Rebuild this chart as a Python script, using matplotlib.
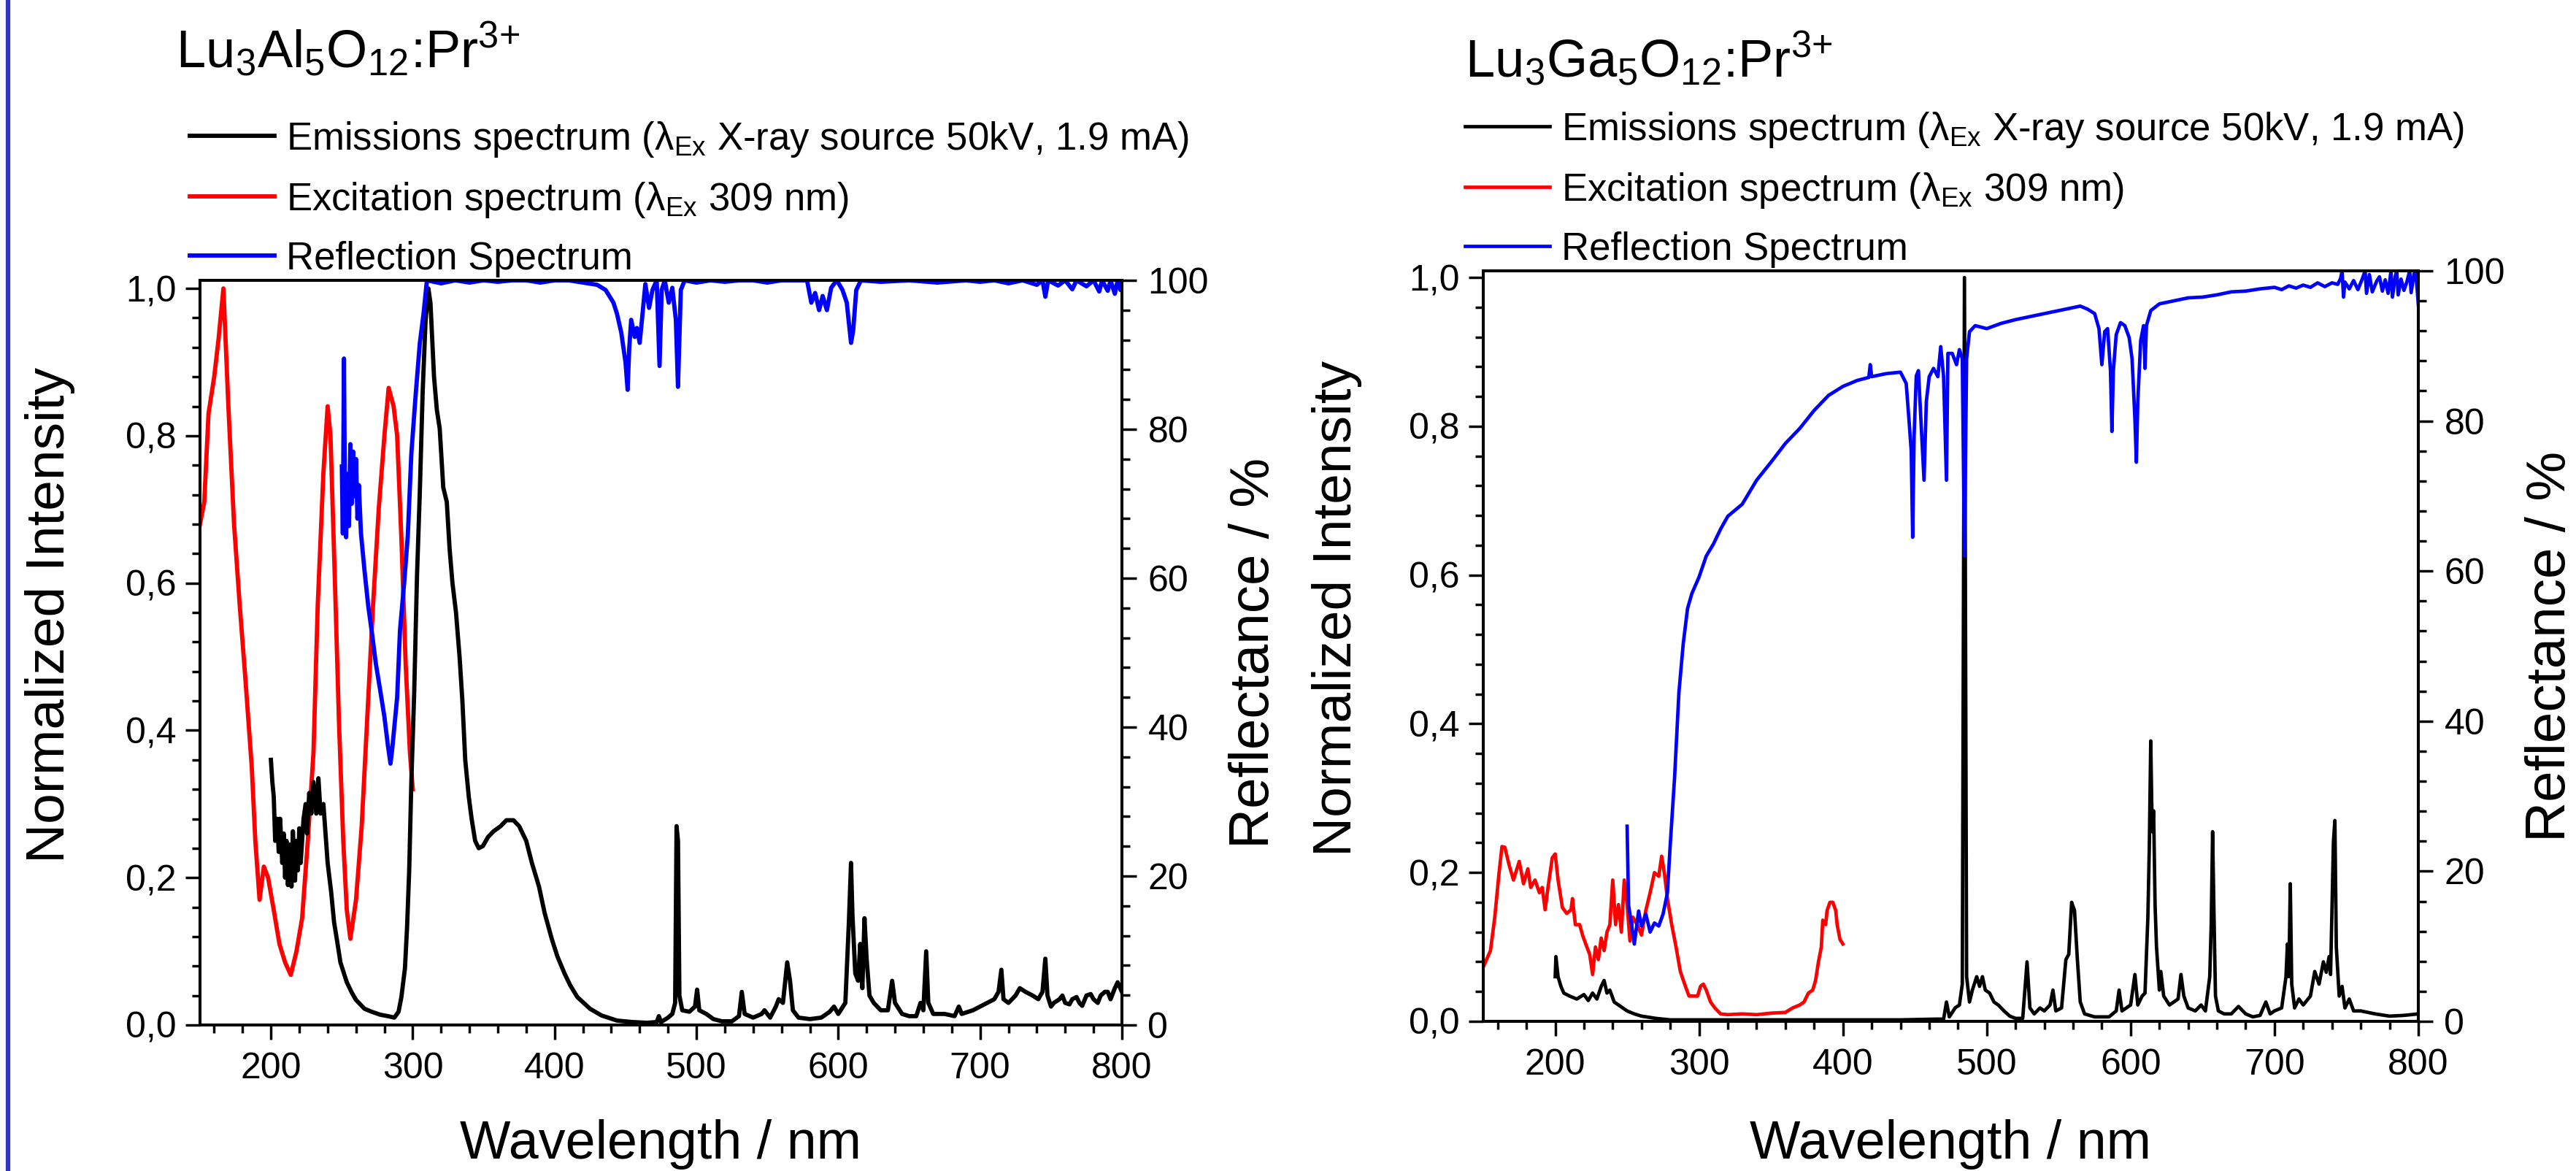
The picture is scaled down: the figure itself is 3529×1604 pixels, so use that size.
import matplotlib
matplotlib.use("Agg")
import matplotlib.pyplot as plt
from matplotlib.ticker import MultipleLocator, FuncFormatter
from matplotlib.lines import Line2D

# Fonts: Arial-like text, mathtext in the same family
plt.rcParams['font.family'] = ['Liberation Sans', 'DejaVu Sans']
plt.rcParams['mathtext.fontset'] = 'custom'
plt.rcParams['mathtext.rm'] = 'Liberation Sans'
plt.rcParams['mathtext.it'] = 'Liberation Sans:italic'
plt.rcParams['mathtext.default'] = 'rm'

# ---------------- Lu3Al5O12:Pr3+ (left panel) ----------------
lu_al_ex_wl = [150, 153, 156, 160, 163, 166.5, 170, 174, 178, 182, 186.5, 189, 192, 195, 198, 202, 206, 210,
               214, 218, 222, 226, 230, 233, 237, 240, 242, 245, 248, 251, 253.5, 256, 260, 264, 268, 272,
               276, 280, 283, 286.5, 289, 292, 295, 298, 300]
lu_al_ex = [0.68, 0.71, 0.83, 0.88, 0.93, 1.0, 0.84, 0.68, 0.57, 0.47, 0.35, 0.25, 0.17, 0.215, 0.20, 0.156,
            0.11, 0.085, 0.068, 0.10, 0.145, 0.25, 0.37, 0.57, 0.75, 0.84, 0.80, 0.61, 0.41, 0.25, 0.156, 0.117,
            0.17, 0.27, 0.42, 0.57, 0.70, 0.80, 0.865, 0.84, 0.80, 0.66, 0.49, 0.37, 0.32]

lu_al_em_wl = [200, 201, 202, 203, 204.5, 205.5, 206.5, 208, 209, 210, 211, 212, 213.5, 214.5, 215.5, 217, 218,
               219, 220, 221, 223, 224.5, 225.5, 227, 228.5, 230, 232, 233.5, 235, 237, 238.5, 240, 242.5,
               244.5, 247, 249, 251, 253.5, 257, 260, 266, 271, 277, 282.5, 287, 290, 292, 294.5, 296, 297.5,
               299, 301, 303, 305, 307, 309, 311, 312.5, 315, 317, 319, 321.5, 324, 326, 328, 330.5, 333, 335,
               337, 339.5, 341.5, 344, 346.5, 349.5, 353, 357, 362, 366, 371, 375, 380, 384, 389, 393, 398,
               402, 407, 411, 416, 425, 433, 444, 455, 465, 472, 473.5, 475, 480, 483, 485, 486, 487, 488, 490,
               495, 499, 500.5, 502, 507, 512, 518, 525, 530, 532, 534, 540, 546, 548, 552, 556, 558, 561, 564,
               566, 568, 572, 580, 588, 594, 597, 600, 605, 607.5, 609, 610, 612, 614, 615.5, 617, 618.5, 620,
               622, 625, 630, 635, 638, 640, 645, 650, 655, 658, 660, 662, 663.5, 667, 675, 682, 685, 687, 695,
               700, 705, 710, 713, 715, 716.5, 720, 725, 728, 732, 737, 741, 744, 746, 747.5, 750, 752, 756,
               758, 760, 763, 765, 768, 770, 772, 775, 778, 780, 783, 785, 788, 790, 792, 795, 797, 800]
lu_al_em = [0.36, 0.33, 0.31, 0.25, 0.28, 0.235, 0.28, 0.22, 0.26, 0.20, 0.25, 0.19, 0.245, 0.188, 0.263, 0.196,
            0.25, 0.21, 0.267, 0.22, 0.28, 0.30, 0.26, 0.315, 0.287, 0.33, 0.287, 0.335, 0.287, 0.30, 0.26, 0.22,
            0.18, 0.14, 0.11, 0.085, 0.073, 0.058, 0.044, 0.034, 0.022, 0.018, 0.014, 0.012, 0.01, 0.018, 0.038,
            0.077, 0.133, 0.21, 0.33, 0.45, 0.61, 0.725, 0.86, 0.955, 1.0, 0.98, 0.88, 0.835, 0.81, 0.73, 0.71,
            0.646, 0.60, 0.56, 0.50, 0.44, 0.36, 0.31, 0.28, 0.25, 0.24, 0.243, 0.255, 0.263, 0.27, 0.278, 0.278,
            0.27, 0.25, 0.22, 0.188, 0.152, 0.117, 0.093, 0.07, 0.054, 0.038, 0.022, 0.013, 0.006, 0.004, 0.003,
            0.004, 0.012, 0.004, 0.01, 0.015, 0.03, 0.27, 0.25, 0.04, 0.02, 0.018, 0.025, 0.048, 0.02, 0.015,
            0.008, 0.005, 0.005, 0.012, 0.045, 0.015, 0.01, 0.015, 0.02, 0.01, 0.025, 0.035, 0.03, 0.085, 0.06,
            0.02, 0.01, 0.008, 0.01, 0.018, 0.025, 0.015, 0.03, 0.14, 0.22, 0.15, 0.07, 0.06, 0.11, 0.05, 0.145,
            0.09, 0.04, 0.03, 0.02, 0.02, 0.06, 0.03, 0.015, 0.012, 0.012, 0.03, 0.02, 0.1, 0.03, 0.015, 0.015,
            0.012, 0.025, 0.015, 0.02, 0.025, 0.03, 0.035, 0.045, 0.075, 0.035, 0.03, 0.04, 0.05, 0.045, 0.04,
            0.035, 0.045, 0.09, 0.04, 0.025, 0.03, 0.035, 0.04, 0.03, 0.028, 0.035, 0.038, 0.03, 0.026, 0.04,
            0.042, 0.035, 0.03, 0.04, 0.045, 0.045, 0.035, 0.05, 0.058, 0.045]

lu_al_refl_wl = [250, 250.7, 251.5, 252.3, 253, 254, 255, 256, 257, 258, 259, 260, 261, 262, 263.5, 266, 268.6,
                 271.4, 274, 277, 280, 282.5, 284.3, 285.5, 287, 289, 291, 294, 296.5, 299, 302, 305, 307.6, 310,
                 320, 330, 340, 350, 360, 370, 380, 390, 400, 410, 420, 430, 436, 441.5, 444, 447, 450, 451.5,
                 452.6, 454, 456.5, 458, 460, 462, 464, 466.6, 469, 472, 474, 475.5, 477.7, 480.5, 483, 485.5,
                 487, 489, 491.7, 500, 510, 520, 530, 540, 550, 560, 570, 578, 581, 583.7, 586.5, 589, 592, 595,
                 599, 603, 606, 609, 610.5, 612.7, 616, 630, 650, 670, 690, 700, 710, 720, 730, 740, 744, 746,
                 748, 755, 760, 765, 768, 775, 780, 784, 786, 790, 792, 795, 797, 799, 800]
lu_al_refl = [75, 66, 89.5, 68, 65.5, 74, 67, 78, 70, 77, 71, 76, 68, 72.5, 66, 61, 56.3, 52.4, 48.5, 45, 41.4,
              37.5, 35.1, 37, 40, 44, 53, 59.5, 65.7, 76.7, 84.5, 91.6, 95.5, 100, 99.6, 100, 99.7, 100, 99.8,
              100, 100, 99.7, 100, 100, 99.7, 99.4, 98.7, 97, 95.5, 93, 89, 85.3, 90.8, 94.7, 92.4, 93.6, 91.6,
              95.5, 99.5, 96.3, 98.7, 100, 88.5, 98.7, 100, 97, 99, 94.7, 85.7, 98.7, 100, 99.7, 100, 99.8, 100,
              100, 99.7, 100, 100, 100, 97, 98.3, 96, 97.9, 96, 99, 100, 98.7, 97, 91.6, 93.2, 98.7, 100, 99.8,
              100, 99.7, 100, 99.8, 100, 99.6, 100, 99.4, 100, 97.8, 100, 99.3, 100, 98.8, 100, 99.2, 100, 98.5,
              100, 98.6, 100, 98.2, 100, 98.7, 99.2]

# ---------------- Lu3Ga5O12:Pr3+ (right panel) ----------------
lu_ga_ex_wl = [150, 155, 158, 161, 163, 165, 168, 171, 175, 178, 181, 183, 186, 189, 191, 193, 195, 198, 200,
               202, 205, 208, 211, 212, 214, 217, 219, 222, 224, 226, 228, 230, 232, 234, 236, 238, 240, 242,
               244, 246, 248, 250, 252, 254, 257, 260, 263, 266, 269, 272, 274, 276, 278, 281, 284, 287, 290,
               293, 296, 299, 301, 303, 305, 308, 311, 315, 320, 330, 340, 350, 360, 365, 370, 373, 376, 379,
               381, 383, 385, 386, 388, 389, 391, 393, 395, 396, 398, 400]
lu_ga_ex = [0.073, 0.095, 0.14, 0.20, 0.235, 0.234, 0.21, 0.19, 0.215, 0.185, 0.205, 0.18, 0.19, 0.173, 0.18,
            0.15, 0.18, 0.22, 0.225, 0.19, 0.153, 0.145, 0.15, 0.165, 0.13, 0.13, 0.116, 0.10, 0.09, 0.063, 0.10,
            0.083, 0.112, 0.095, 0.12, 0.13, 0.19, 0.13, 0.157, 0.12, 0.19, 0.157, 0.108, 0.14, 0.13, 0.116,
            0.149, 0.173, 0.20, 0.195, 0.222, 0.198, 0.165, 0.13, 0.10, 0.067, 0.05, 0.034, 0.034, 0.034, 0.047,
            0.05, 0.042, 0.026, 0.018, 0.01, 0.009, 0.01, 0.009, 0.011, 0.012, 0.018, 0.022, 0.026, 0.038, 0.042,
            0.055, 0.08, 0.10, 0.136, 0.13, 0.149, 0.16, 0.16, 0.149, 0.13, 0.11, 0.104]

lu_ga_em_wl = [200, 200.5, 202, 204, 206, 210, 215, 220, 223, 226, 229, 232, 234, 236, 238, 241, 244, 247, 250,
               255, 260, 270, 280, 320, 380, 440, 465, 470, 472, 474, 478, 481, 483, 484.5, 486, 488, 490, 493,
               495, 497, 499, 502, 505, 508, 512, 516, 520, 525, 528, 530, 533, 537, 540, 544, 546, 548, 552,
               555, 557, 559, 561, 563, 565, 568, 575, 585, 590, 592, 594, 597, 600, 603, 605, 608, 610, 612,
               613, 614, 615, 616, 617, 618, 620, 621, 623, 627, 630, 633, 635, 637, 640, 645, 649, 652, 655,
               656, 657, 658, 659, 661, 665, 670, 675, 680, 685, 690, 694, 697, 700, 705, 708, 709, 710, 711,
               712, 714, 717, 720, 725, 728, 731, 734, 736, 738, 739, 741, 742, 743, 745, 747, 749, 752, 755,
               760, 770, 780, 790, 800]
lu_ga_em = [0.06, 0.087, 0.06, 0.047, 0.038, 0.034, 0.03, 0.036, 0.028, 0.038, 0.03, 0.047, 0.055, 0.038,
            0.042, 0.026, 0.022, 0.018, 0.014, 0.01, 0.007, 0.004, 0.002, 0.002, 0.002, 0.002, 0.003, 0.003,
            0.026, 0.006, 0.018, 0.022, 0.05, 1.0, 0.06, 0.026, 0.042, 0.06, 0.047, 0.06, 0.042, 0.038, 0.026,
            0.022, 0.014, 0.007, 0.004, 0.004, 0.08, 0.018, 0.01, 0.018, 0.014, 0.022, 0.042, 0.014, 0.018,
            0.083, 0.09, 0.16, 0.149, 0.083, 0.026, 0.01, 0.006, 0.006, 0.014, 0.042, 0.014, 0.018, 0.022, 0.063,
            0.022, 0.034, 0.038, 0.14, 0.234, 0.377, 0.255, 0.283, 0.157, 0.10, 0.042, 0.067, 0.034, 0.022,
            0.026, 0.03, 0.063, 0.034, 0.018, 0.014, 0.022, 0.014, 0.06, 0.128, 0.255, 0.14, 0.034, 0.014, 0.01,
            0.01, 0.02, 0.01, 0.006, 0.008, 0.026, 0.01, 0.014, 0.018, 0.06, 0.104, 0.06, 0.185, 0.05, 0.018,
            0.03, 0.022, 0.034, 0.067, 0.05, 0.08, 0.066, 0.087, 0.063, 0.242, 0.27, 0.10, 0.034, 0.047, 0.018,
            0.03, 0.014, 0.014, 0.01, 0.007, 0.008, 0.01]

lu_ga_refl_wl = [250, 251, 253, 255, 258, 260, 263, 266, 269, 272, 275, 278, 280, 283, 286, 289, 292, 295, 300,
                 305, 310, 315, 320, 330, 340, 350, 360, 370, 380, 390, 400, 410, 418, 419, 420, 430, 440, 444,
                 446, 447.5, 448.5, 449.5, 451, 452.5, 454, 456.4, 458, 460, 463, 466, 468, 470, 472, 473, 476,
                 479, 481, 483, 484.5, 486, 488, 492, 500, 510, 520, 530, 540, 550, 560, 565, 570, 575, 578, 580,
                 582, 584, 586, 587, 588, 590, 593, 596, 599, 601, 603, 604, 605, 607, 609, 610, 611, 614, 620,
                 630, 640, 650, 660, 670, 680, 690, 700, 705, 710, 715, 720, 725, 730, 735, 740, 744, 746, 747,
                 748, 749, 752, 755, 758, 761, 763, 764, 766, 768, 771, 773, 775, 777, 779, 781, 782, 784, 785,
                 786, 788, 790, 792, 794, 795, 797, 798, 799, 800]
lu_ga_refl = [26, 15.5, 13, 10.3, 14.7, 12.7, 14.3, 11.9, 13.1, 12.7, 14.3, 17.1, 23.6, 32.5, 43.8, 50.3, 55, 57,
              59.2, 62, 63.6, 65.6, 67.3, 68.9, 72.1, 74.5, 77, 79, 81.4, 83.4, 84.6, 85.4, 85.8, 87.5, 85.9, 86.3,
              86.5, 85, 80, 76, 64.5, 78, 86, 86.7, 81, 72.1, 82.6, 85.9, 87, 85.9, 89.9, 85.9, 72.1, 89, 89, 87.5,
              89.5, 88.3, 62, 88.3, 91.9, 92.7, 92.3, 93, 93.5, 93.9, 94.3, 94.7, 95.1, 95.3, 94.9, 94.3, 92.3,
              87.5, 91.9, 92.3, 86.7, 78.6, 86.7, 91.5, 93.1, 92.7, 91.1, 88.3, 80.2, 74.5, 82.6, 90.7, 92.7, 87,
              92.7, 94.7, 95.6, 96, 96.4, 96.5, 96.8, 97.2, 97.3, 97.6, 97.8, 97.5, 98, 97.7, 98.1, 97.8, 98.4,
              97.9, 98.4, 98.2, 99.0, 100, 96.5, 98.5, 97.6, 98.7, 97.5, 98.9, 100, 97.0, 99.5, 97.2, 98.6, 99.2,
              97.3, 98.8, 97.0, 100, 96.5, 99.3, 100, 96.8, 98.9, 97.4, 98.5, 100, 97.1, 99.6, 100, 98.0, 95.5]

labels = ['Emissions spectrum (λ$_{Ex}$ X-ray source 50kV, 1.9 mA)',
          'Excitation spectrum (λ$_{Ex}$ 309 nm)',
          'Reflection Spectrum']


def comma_fmt(v, pos):
    return f"{v:.1f}".replace(".", ",")


def style_panel(ax, axr, ytop, xlab_y, ylab_x, rlab_x):
    ax.set_xlim(150, 800)
    ax.set_ylim(0, ytop)
    axr.set_ylim(0, 100)
    ax.xaxis.set_major_locator(MultipleLocator(100))
    ax.xaxis.set_minor_locator(MultipleLocator(20))
    ax.yaxis.set_major_locator(MultipleLocator(0.2))
    ax.yaxis.set_minor_locator(MultipleLocator(0.04))
    ax.yaxis.set_major_formatter(FuncFormatter(comma_fmt))
    axr.yaxis.set_major_locator(MultipleLocator(20))
    axr.yaxis.set_minor_locator(MultipleLocator(4))
    for a in (ax, axr):
        for s in a.spines.values():
            s.set_linewidth(2.9)
    ax.tick_params(axis='both', which='major', direction='out', length=14.5, width=2.5, labelsize=36)
    ax.tick_params(axis='both', which='minor', direction='out', length=8, width=2.5)
    ax.tick_params(axis='x', which='both', top=False, pad=12)
    ax.tick_params(axis='y', which='both', right=False, pad=9)
    axr.tick_params(axis='y', which='major', direction='out', length=14.5, width=2.5, labelsize=36, pad=11)
    axr.tick_params(axis='y', which='minor', direction='out', length=8, width=2.5)
    ax.set_xlabel("Wavelength / nm", fontsize=53)
    ax.set_ylabel("Normalized Intensity", fontsize=54)
    axr.set_ylabel("Reflectance / %", fontsize=55)
    ax.xaxis.set_label_coords(0.5, xlab_y)
    ax.yaxis.set_label_coords(ylab_x, 0.55)
    axr.yaxis.set_label_coords(rlab_x, 0.5)


fig = plt.figure(figsize=(35.29, 16.04), dpi=100)

# Left panel
ax1 = fig.add_axes([0.07764, 0.12469, 0.35789, 0.63591])
ax1r = ax1.twinx()
l_ex, = ax1.plot(lu_al_ex_wl, lu_al_ex, color='red', lw=4.2)
l_em, = ax1.plot(lu_al_em_wl, lu_al_em, color='black', lw=4.2)
l_rf, = ax1r.plot(lu_al_refl_wl, lu_al_refl, color='blue', lw=4.2)
style_panel(ax1, ax1r, 1.011, -0.1265, -0.1354, 1.116)
ax1r.legend([l_em, l_ex, l_rf], labels, loc='upper left', bbox_to_anchor=(0.0737, 0.898),
            bbox_transform=fig.transFigure, frameon=False, fontsize=38, handlelength=2.2,
            handletextpad=0.3, labelspacing=0.55, borderpad=0, borderaxespad=0)
fig.text(0.0683, 1 - 92 / 1604, r'Lu$_3$Al$_5$O$_{12}$:Pr$^{3{+}}$', fontsize=52, va='baseline')

# Right panel
ax2 = fig.add_axes([0.57580, 0.12781, 0.36299, 0.64090])
ax2r = ax2.twinx()
r_ex, = ax2.plot(lu_ga_ex_wl, lu_ga_ex, color='red', lw=3.4)
r_em, = ax2.plot(lu_ga_em_wl, lu_ga_em, color='black', lw=3.4)
r_rf, = ax2r.plot(lu_ga_refl_wl, lu_ga_refl, color='blue', lw=3.4)
style_panel(ax2, ax2r, 1.009, -0.1304, -0.1296, 1.114)
ax2r.legend([r_em, r_ex, r_rf], labels, loc='upper left', bbox_to_anchor=(0.5687, 0.906),
            bbox_transform=fig.transFigure, frameon=False, fontsize=38, handlelength=2.2,
            handletextpad=0.3, labelspacing=0.55, borderpad=0, borderaxespad=0)
fig.text(0.5687, 1 - 105 / 1604, r'Lu$_3$Ga$_5$O$_{12}$:Pr$^{3{+}}$', fontsize=52, va='baseline')

# blue rule along the left edge of the image
fig.add_artist(Line2D([0.0031, 0.0031], [0, 1], transform=fig.transFigure, color='#3434c4', lw=4.5))

fig.savefig("out.png", dpi=100)
